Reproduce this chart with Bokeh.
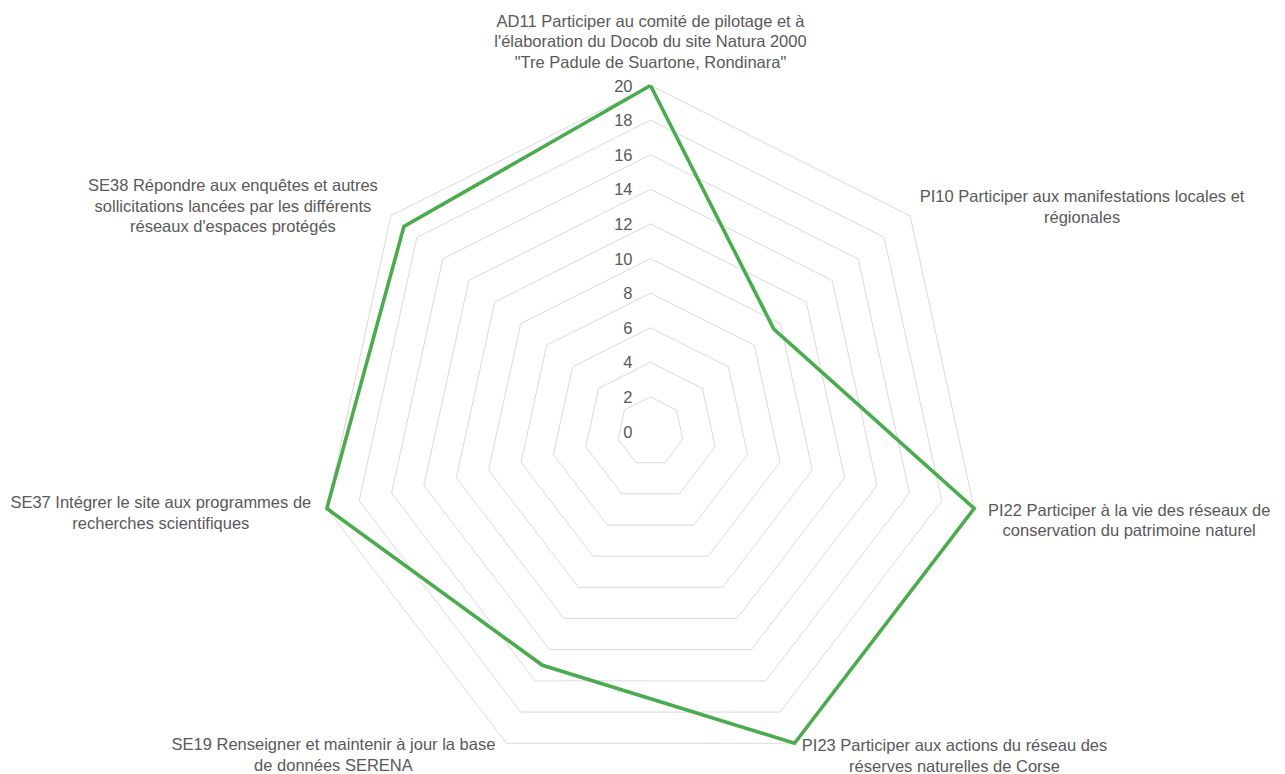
import math
from bokeh.plotting import figure
from bokeh.models import Range1d, ColumnDataSource
from bokeh.core.properties import value
from bokeh.embed import file_html
from bokeh.resources import INLINE

categories = [
    "AD11 Participer au comité de pilotage et à\nl'élaboration du Docob du site Natura 2000\n\"Tre Padule de Suartone, Rondinara\"",
    "PI10 Participer aux manifestations locales et\nrégionales",
    "PI22 Participer à la vie des réseaux de\nconservation du patrimoine naturel",
    "PI23 Participer aux actions du réseau des\nréserves naturelles de Corse",
    "SE19 Renseigner et maintenir à jour la base\nde données SERENA",
    "SE37 Intégrer le site aux programmes de\nrecherches scientifiques",
    "SE38 Répondre aux enquêtes et autres\nsollicitations lancées par les différents\nréseaux d'espaces protégés",
]
values = [20, 9.5, 20, 20, 15, 20, 19]
ticks = [0, 2, 4, 6, 8, 10, 12, 14, 16, 18, 20]
tick_labels = [str(t) for t in ticks]

# layout
W, H = 1285, 774
CX, CY = 650, 431          # centre in figure pixels
SX, SY = 16.6, 17.3         # pixels per unit
label_dx = [0, 172, 155, 160, -173, -166, -158]
label_dy = [-44, -9, 11.5, 12, 11, 3.7, -10]

n = len(categories)
ang = [2 * math.pi * k / n for k in range(n)]
vmax = max(ticks)

p = figure(width=W, height=H, output_backend="svg", toolbar_location=None,
           x_range=Range1d(-CX / SX, (W - CX) / SX),
           y_range=Range1d(-(H - CY) / SY, CY / SY),
           min_border=0, outline_line_color=None)
p.axis.visible = False
p.grid.visible = False
p.background_fill_color = "white"
p.border_fill_color = "white"

# rings
ring_xs, ring_ys = [], []
for t in ticks[1:]:
    ring_xs.append([t * math.sin(a) for a in ang] + [0])
    ring_ys.append([t * math.cos(a) for a in ang] + [t])
p.multi_line(ring_xs, ring_ys, line_color="#d9d9d9", line_width=1)

# data line
dx = [v * math.sin(a) for v, a in zip(values, ang)]
dy = [v * math.cos(a) for v, a in zip(values, ang)]
p.line(dx + [dx[0]], dy + [dy[0]], line_color="#4aac4e", line_width=3.6,
       line_join="miter")

# tick labels
p.text(x=[0] * len(ticks), y=ticks, text=tick_labels, x_offset=-18,
       text_align="right", text_baseline="middle", text_font=value("Liberation Sans"),
       text_font_size="16.5px", text_color="#595959")

# category labels
lsrc = ColumnDataSource(dict(
    x=[vmax * math.sin(a) for a in ang],
    y=[vmax * math.cos(a) for a in ang],
    text=categories,
    xo=label_dx,
    yo=label_dy,
))
p.text(x="x", y="y", text="text", x_offset="xo", y_offset="yo", source=lsrc,
       text_align="center", text_baseline="middle", text_font=value("Liberation Sans"),
       text_font_size="16.5px", text_color="#595959", text_line_height=1.15)

open("out.html", "w").write(file_html(p, INLINE))
